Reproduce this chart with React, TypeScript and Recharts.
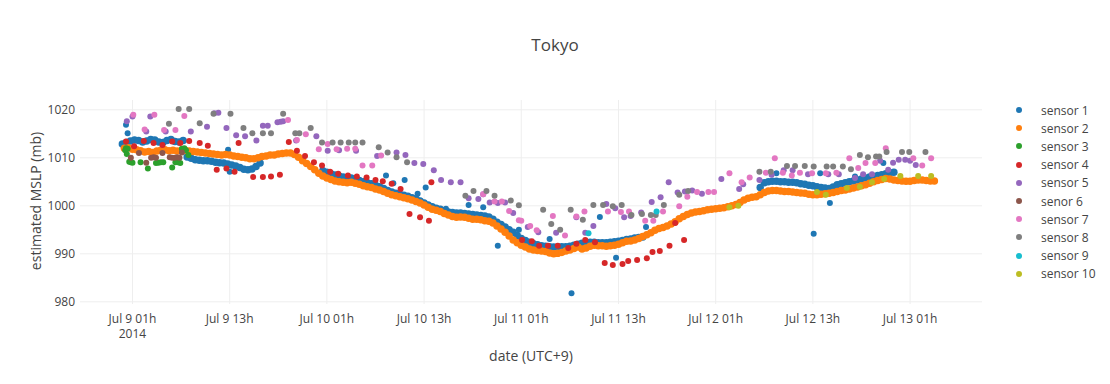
import React from "react";
import { ScatterChart, Scatter, XAxis, YAxis, CartesianGrid } from "recharts";

const FONT = '"Open Sans", verdana, arial, sans-serif';

// time is hours since Jul 9 2014 00:00 (UTC+9)
const xTicks = [1, 13, 25, 37, 49, 61, 73, 85, 97];
const xTickLabels = [
  "Jul 9 01h", "Jul 9 13h", "Jul 10 01h", "Jul 10 13h", "Jul 11 01h",
  "Jul 11 13h", "Jul 12 01h", "Jul 12 13h", "Jul 13 01h",
];
const yTicks = [980, 990, 1000, 1010, 1020];

const sensorNames = [
  "sensor 1", "sensor 2", "sensor 3", "sensor 4", "sensor 5",
  "senor 6", "sensor 7", "sensor 8", "sensor 9", "sensor 10",
];
const sensorColors = [
  "#1f77b4", "#ff7f0e", "#2ca02c", "#d62728", "#9467bd",
  "#8c564b", "#e377c2", "#7f7f7f", "#17becf", "#bcbd22",
];

// half-hourly readings (dense stretches)
const sensor2Start = 0;
const sensor2Values = [
  1012.0, 1012.1, 1011.8, 1011.7, 1011.5, 1011.2, 1011.3, 1011.1, 1011.4, 1011.6,
  1011.7, 1011.5, 1011.6, 1011.4, 1011.5, 1011.6, 1011.4, 1011.3, 1011.2, 1011.1,
  1011.0, 1010.9, 1010.8, 1010.7, 1010.6, 1010.7, 1010.6, 1010.4, 1010.3, 1010.1,
  1010.0, 1009.8, 1009.8, 1010.0, 1010.3, 1010.4, 1010.6, 1010.6, 1010.8, 1010.9,
  1011.0, 1011.0, 1010.7, 1010.1, 1009.4, 1008.8, 1008.2, 1007.5, 1006.8, 1006.2,
  1005.8, 1005.5, 1005.2, 1005.0, 1004.9, 1004.8, 1004.9, 1004.7, 1004.5, 1004.2,
  1004.0, 1003.8, 1003.5, 1003.3, 1003.0, 1002.6, 1002.3, 1002.1, 1001.9, 1001.7,
  1001.5, 1001.2, 1000.9, 1000.6, 1000.2, 999.7, 999.3, 999.1, 998.8, 998.4,
  998.1, 997.8, 997.6, 997.7, 997.6, 997.4, 997.2, 997.2, 997.1, 996.9,
  996.8, 996.4, 995.8, 995.2, 994.5, 993.7, 992.9, 992.3, 991.8, 991.4,
  991.0, 990.8, 990.7, 990.6, 990.5, 990.2, 990.0, 990.1, 990.3, 990.6,
  990.8, 991.1, 991.4, 991.0, 991.2, 991.6, 991.8, 991.7, 991.7, 991.6,
  991.7, 991.8, 992.0, 992.3, 992.6, 992.7, 992.9, 993.2, 993.6, 994.0,
  994.4, 994.9, 995.3, 995.5, 995.8, 996.2, 996.7, 997.3, 997.8, 998.2,
  998.5, 998.7, 998.8, 999.0, 999.2, 999.3, 999.4, 999.5, 999.6, 999.8,
  1000.0, 1000.3, 1000.7, 1001.2, 1001.6, 1001.8, 1001.9, 1002.3, 1002.8, 1003.1,
  1003.2, 1003.2, 1003.1, 1003.0, 1003.0, 1002.9, 1002.8, 1002.7, 1002.6, 1002.4,
  1002.3, 1002.3, 1002.4, 1002.5, 1002.6, 1002.8, 1003.0, 1003.2, 1003.3, 1003.5,
  1003.7, 1003.9, 1004.2, 1004.4, 1004.7, 1005.0, 1005.3, 1005.5, 1005.7, 1005.6,
  1005.4, 1005.3, 1005.2, 1005.1, 1005.1, 1005.3, 1005.4, 1005.4, 1005.3, 1005.2,
  1005.2,
];

const sensor1aStart = -0.25;
const sensor1aValues = [
  1012.9, 1013.2, 1013.5, 1013.7, 1013.6, 1013.3, 1013.5, 1013.8,
  1013.7, 1013.3, 1013.2, 1013.6, 1013.8, 1013.4, 1013.3, 1013.6,
];
const sensor1bStart = 7.75;
const sensor1bValues = [
  1010.2, 1009.9, 1009.6, 1009.5, 1009.4, 1009.4, 1009.3, 1009.1, 1009.0, 1008.9,
  1008.7, 1008.5, 1008.3, 1008.0, 1007.6, 1007.5, 1007.7, 1008.2, 1008.9,
];
const sensor1cStart = 24.5;
const sensor1cValues = [
  1007.3, 1007.0, 1006.7, 1006.4, 1006.2, 1006.0, 1005.9, 1005.8, 1005.6, 1005.3,
  1005.0, 1004.8, 1004.6, 1004.3, 1004.0, 1003.6, 1003.2, 1002.9, 1002.6, 1002.4,
  1002.2, 1002.0, 1001.7, 1001.4, 1001.0, 1000.6, 1000.2, 999.8, 999.5, 999.3,
  999.0, 998.7, 998.6, 998.5, 998.5, 998.4, 998.3, 998.2, 998.1, 998.0,
  997.9, 997.7, 997.2, 996.6, 996.1, 995.6, 995.0, 994.5, 993.8, 993.2,
  992.8, 992.4, 992.1, 991.9, 991.7, 991.6, 991.5, 991.4, 991.4, 991.5,
  991.5, 991.6, 991.8, 992.0, 992.2, 992.3, 992.4, 992.4, 992.3, 992.3,
  992.3, 992.4, 992.5, 992.6, 992.8, 993.0, 993.1, 993.3, 993.4, 993.5,
];
const sensor1dStart = 78.5;
const sensor1dValues = [
  1003.8, 1004.8, 1005.0, 1005.1, 1005.1, 1005.0, 1005.0, 1004.9, 1004.9, 1004.8,
  1004.6, 1004.5, 1004.3, 1004.2, 1004.0, 1003.8, 1003.7, 1003.6, 1003.9, 1004.4,
  1004.6, 1004.8, 1005.0, 1005.2, 1005.4, 1005.6, 1005.8, 1006.0, 1006.1, 1006.3,
  1006.5, 1006.7, 1006.9, 1007.0,
];
const sensor1Extra = [
  [0.2, 1016.9], [0.4, 1015.1], [12.8, 1011.7], [13.0, 1007.1], [16.9, 1010.3],
  [32.3, 1006.3], [33.2, 1004.7], [34.6, 1005.4], [36.2, 1002.5], [37.2, 1003.8],
  [39.7, 999.4], [42.5, 1000.2], [44.3, 999.7], [46.1, 991.7], [48.7, 995.0],
  [52.5, 993.1], [55.2, 981.8], [58.7, 997.7], [60.7, 989.2], [64.4, 995.6],
  [80.5, 1006.8], [85.1, 994.2], [85.9, 1006.8], [87.1, 1000.6], [90.2, 1006.1],
  [93.7, 1008.9],
];

// sparse readings: [hour, mb]
const sensor3 = [
  [0.1, 1011.6], [0.2, 1012.0], [0.3, 1010.8], [0.4, 1011.9], [0.6, 1009.2],
  [0.8, 1009.1], [1.0, 1009.0], [2.0, 1009.1], [2.9, 1007.8], [3.9, 1008.9],
  [4.2, 1009.0], [4.5, 1009.1], [4.8, 1009.1], [5.9, 1008.0], [6.3, 1009.1],
  [6.6, 1009.1], [6.9, 1008.9], [7.1, 1011.9], [7.4, 1012.0], [7.6, 1011.6],
  [7.9, 1010.6],
];
const sensor4 = [
  [0.2, 1013.4], [1.2, 1012.4], [2.4, 1013.5], [3.6, 1013.1], [4.7, 1012.7],
  [5.9, 1013.4], [6.9, 1013.1], [8.0, 1013.5], [9.3, 1013.1], [10.3, 1012.5],
  [11.4, 1007.5], [12.6, 1007.8], [13.6, 1007.1], [14.1, 1013.1], [15.9, 1006.0],
  [17.1, 1006.0], [18.1, 1006.1], [19.2, 1006.5], [20.3, 1013.3], [21.3, 1011.5],
  [22.3, 1010.4], [23.4, 1009.1], [24.4, 1008.4], [25.4, 1007.1], [26.4, 1006.7],
  [27.6, 1006.3], [28.7, 1006.1], [29.9, 1005.9], [31.0, 1005.4], [31.9, 1005.1],
  [33.0, 1004.6], [34.1, 1003.5], [35.2, 998.3], [36.5, 997.6], [37.6, 996.9],
  [37.9, 1004.9], [49.1, 992.9], [50.3, 992.6], [51.2, 991.7], [52.3, 991.7],
  [53.5, 991.7], [54.8, 991.2], [55.8, 992.1], [56.9, 992.9], [58.1, 992.4],
  [59.3, 988.1], [60.3, 987.7], [61.5, 987.9], [62.2, 988.5], [63.3, 988.7],
  [64.5, 989.1], [65.2, 990.4], [66.1, 990.6], [67.3, 991.7], [68.0, 996.4],
  [69.1, 992.9],
];
const sensor5 = [
  [0.3, 1017.6], [1.0, 1018.6], [2.7, 1015.5], [3.2, 1018.6], [5.1, 1015.5],
  [8.2, 1015.5], [10.2, 1016.5], [11.1, 1019.3], [11.6, 1019.4], [12.6, 1016.2],
  [13.8, 1014.7], [14.9, 1014.5], [16.3, 1013.6], [17.1, 1016.7], [17.7, 1016.7],
  [18.9, 1017.4], [19.3, 1017.5], [19.6, 1017.6], [21.2, 1013.6], [23.7, 1014.5],
  [25.1, 1011.5], [26.5, 1011.6], [28.6, 1011.5], [31.2, 1010.4], [33.6, 1011.1],
  [34.7, 1010.6], [35.8, 1008.9], [36.9, 1008.7], [38.2, 1007.4], [39.1, 1005.4],
  [40.3, 1004.9], [41.5, 1004.9], [42.5, 1001.6], [43.7, 1001.4], [44.3, 1002.4],
  [45.1, 1000.7], [46.1, 1000.6], [47.0, 1000.7], [48.0, 998.5], [49.8, 995.6],
  [51.1, 994.5], [53.3, 994.4], [55.8, 997.6], [56.9, 994.4], [57.9, 995.8],
  [59.5, 1000.4], [60.6, 999.5], [61.7, 997.6], [62.5, 997.9], [63.8, 998.6],
  [65.1, 1000.8], [66.2, 1001.8], [67.2, 1004.9], [68.3, 1002.8], [69.2, 1003.0],
  [70.1, 1003.2], [71.3, 1002.5], [73.7, 1005.6], [75.9, 1003.5], [76.4, 1004.5],
  [78.4, 1005.4], [79.9, 1006.5], [81.4, 1007.4], [82.5, 1007.4], [84.4, 1006.6],
  [86.9, 1006.6], [88.2, 1006.6], [90.2, 1005.8], [91.2, 1006.6], [92.3, 1006.6],
  [93.3, 1009.4], [94.3, 1007.5], [94.9, 1009.0], [95.6, 1009.6], [96.4, 1009.6],
  [97.0, 1009.4], [97.7, 1008.5],
];
const sensor6 = [
  [0.8, 1010.0], [1.8, 1011.0], [2.7, 1009.0], [3.3, 1010.0], [3.6, 1010.1],
  [3.9, 1010.0], [4.7, 1011.0], [5.6, 1010.1], [5.9, 1010.0], [6.2, 1010.0],
  [6.5, 1010.1], [6.8, 1010.0], [7.1, 1011.1],
];
const sensor7 = [
  [1.1, 1019.0], [2.5, 1015.9], [3.7, 1019.0], [4.9, 1015.8], [6.3, 1015.8],
  [7.4, 1018.7], [20.2, 1017.9], [21.3, 1013.7], [22.4, 1014.9], [24.0, 1011.8],
  [25.1, 1012.9], [26.2, 1011.8], [27.5, 1011.9], [28.5, 1011.9], [29.4, 1008.4],
  [30.6, 1008.4], [31.7, 1010.5], [44.3, 1002.4], [45.7, 1000.9], [46.6, 1000.9],
  [47.5, 998.9], [48.7, 997.0], [49.0, 996.9], [50.1, 995.8], [50.9, 994.9],
  [52.9, 997.9], [54.4, 993.8], [55.8, 997.8], [56.8, 998.8], [59.7, 998.8],
  [61.3, 998.7], [62.3, 998.8], [64.3, 996.9], [65.3, 996.9], [66.5, 998.8],
  [68.5, 999.9], [69.5, 1001.9], [70.7, 1002.9], [72.1, 1002.9], [72.8, 1002.9],
  [74.7, 1006.8], [76.2, 1004.9], [77.2, 1005.9], [79.2, 1006.9], [80.3, 1009.9],
  [81.3, 1006.9], [82.4, 1006.3], [83.4, 1006.9], [84.9, 1006.8], [86.6, 1006.8],
  [87.9, 1006.9], [89.5, 1009.9], [90.6, 1007.9], [91.5, 1008.9], [92.7, 1008.9],
  [94.0, 1012.0], [97.4, 1009.9], [98.5, 1008.4], [99.6, 1009.9],
];
const sensor8 = [
  [5.5, 1017.1], [6.7, 1020.2], [8.0, 1020.2], [9.3, 1017.2], [11.0, 1019.2],
  [13.1, 1019.2], [14.7, 1016.2], [15.8, 1015.1], [17.1, 1015.1], [18.1, 1015.1],
  [19.6, 1019.2], [21.1, 1015.1], [21.6, 1015.1], [23.0, 1016.2], [24.4, 1013.2],
  [25.7, 1013.2], [26.7, 1013.2], [27.7, 1013.2], [28.5, 1013.2], [29.4, 1013.2],
  [31.4, 1012.2], [32.5, 1011.1], [33.6, 1010.1], [34.9, 1009.1], [42.1, 1002.1],
  [43.1, 1003.1], [44.7, 1003.1], [45.7, 1002.1], [47.7, 1001.1], [48.7, 1000.1],
  [51.7, 999.2], [52.7, 996.2], [53.8, 995.0], [55.1, 999.2], [56.6, 997.1],
  [57.9, 1000.2], [59.1, 1000.2], [60.3, 999.9], [61.4, 1000.2], [62.6, 998.1],
  [63.9, 998.3], [65.0, 998.1], [65.6, 998.1], [66.6, 1000.2], [68.5, 1002.3],
  [69.6, 1003.1], [78.4, 1007.1], [79.8, 1007.1], [81.8, 1008.3], [82.8, 1008.3],
  [84.0, 1008.3], [85.1, 1008.2], [86.7, 1008.2], [87.5, 1008.2], [88.7, 1008.2],
  [89.7, 1007.6], [90.8, 1010.6], [91.8, 1010.1], [92.8, 1010.3], [93.2, 1010.3],
  [94.1, 1011.2], [96.0, 1011.2], [96.9, 1011.2], [98.9, 1011.2],
];
const sensor9 = [[57.3, 994.3], [65.7, 998.8]];
const sensor10 = [
  [74.7, 999.7], [75.8, 1000.0], [85.5, 1002.9], [86.6, 1002.3], [89.2, 1003.7],
  [90.8, 1004.0], [92.3, 1004.9], [93.8, 1005.6], [95.8, 1006.2], [98.0, 1006.2],
  [99.6, 1006.2],
];

const halfHourly = (start: number, values: number[]) =>
  values.map((p, i) => ({ t: start + i * 0.5, p }));
const fromPairs = (list: number[][]) => list.map(([t, p]) => ({ t, p }));

// each layer: sensor index, points, dot radius (dense runs a bit fatter)
const layers = [
  {
    s: 0, r: 3.75, data: [
      ...halfHourly(sensor1aStart, sensor1aValues),
      ...halfHourly(sensor1bStart, sensor1bValues),
      ...halfHourly(sensor1cStart, sensor1cValues),
      ...halfHourly(sensor1dStart, sensor1dValues),
    ],
  },
  { s: 0, r: 3, data: fromPairs(sensor1Extra) },
  { s: 1, r: 3.75, data: halfHourly(sensor2Start, sensor2Values) },
  { s: 2, r: 3, data: fromPairs(sensor3) },
  { s: 3, r: 3, data: fromPairs(sensor4) },
  { s: 4, r: 3, data: fromPairs(sensor5) },
  { s: 5, r: 3, data: fromPairs(sensor6) },
  { s: 6, r: 3, data: fromPairs(sensor7) },
  { s: 7, r: 3, data: fromPairs(sensor8) },
  { s: 8, r: 3, data: fromPairs(sensor9) },
  { s: 9, r: 3, data: fromPairs(sensor10) },
];

const dot = (color: string, r: number) => (props: any) =>
  <circle cx={props.cx} cy={props.cy} r={r} fill={color} />;

function XTick(props: any) {
  const { x, y, payload } = props;
  const label = xTickLabels[xTicks.indexOf(payload.value)];
  return (
    <text x={x} y={y} textAnchor="middle" fill="#444" fontSize={12} fontFamily={FONT}>
      <tspan x={x} dy={18.5}>{label}</tspan>
      {payload.value === 1 && <tspan x={x} dy={15}>2014</tspan>}
    </text>
  );
}

export default function App() {
  return (
    <div style={{ position: "absolute", left: 0, top: 0, width: 1110, height: 384, background: "#fff", fontFamily: FONT, color: "#444" }}>
      <ScatterChart width={1110} height={384} margin={{ top: 100, right: 128, bottom: 40, left: 20 }}>
        <CartesianGrid stroke="#eee" strokeWidth={1} syncWithTicks />
        <XAxis
          type="number" dataKey="t" domain={[-5.48, 105.88]} ticks={xTicks}
          allowDataOverflow axisLine={false} tickLine={false} tickSize={0} tickMargin={0}
          height={40} tick={(p: any) => <XTick {...p} />} interval={0}
        />
        <YAxis
          type="number" dataKey="p" domain={[979.55, 1022.05]} ticks={yTicks}
          allowDataOverflow axisLine={false} tickLine={false} tickSize={0} tickMargin={5}
          width={60} tick={{ fill: "#444", fontSize: 12, fontFamily: FONT }} interval={0}
        />
        {layers.map((layer, i) => (
          <Scatter
            key={i} name={sensorNames[layer.s]} data={layer.data}
            fill={sensorColors[layer.s]} isAnimationActive={false}
            shape={dot(sensorColors[layer.s], layer.r)}
          />
        ))}
      </ScatterChart>

      <div style={{ position: "absolute", left: 0, top: 33, width: 1110, textAlign: "center", fontSize: 17, lineHeight: "24px" }}>
        Tokyo
      </div>
      <div style={{ position: "absolute", left: 331, top: 346, width: 400, textAlign: "center", fontSize: 14, lineHeight: "20px" }}>
        date (UTC+9)
      </div>
      <div style={{ position: "absolute", left: 36, top: 201, transform: "translate(-50%, -50%) rotate(-90deg)", whiteSpace: "nowrap", fontSize: 14, lineHeight: "20px" }}>
        estimated MSLP (mb)
      </div>

      {sensorNames.map((name, i) => (
        <div key={name} style={{ position: "absolute", left: 1012, top: 101 + i * 18.2, height: 18, display: "flex", alignItems: "center", fontSize: 12 }}>
          <span style={{ display: "inline-block", width: 6, height: 6, borderRadius: 3, background: sensorColors[i], marginLeft: 4, marginRight: 19 }} />
          <span>{name}</span>
        </div>
      ))}
    </div>
  );
}
